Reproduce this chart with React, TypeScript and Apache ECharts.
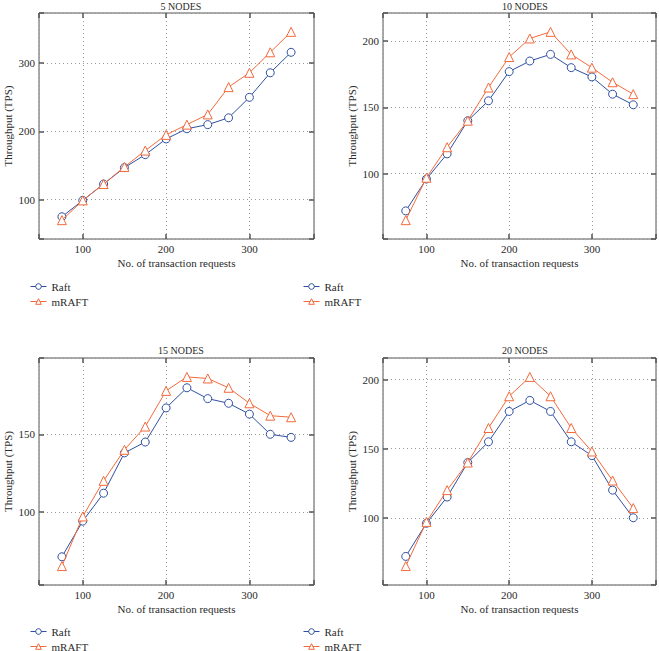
import React, { useEffect, useRef } from "react";
import * as echarts from "echarts";

const requests = [75, 100, 125, 150, 175, 200, 225, 250, 275, 300, 325, 350];

const raft5 = [75, 99, 123, 147, 166, 189, 204, 210, 220, 250, 286, 316];
const mraft5 = [70, 99, 123, 148, 172, 195, 210, 225, 265, 286, 316, 346];

const raft10 = [72, 96, 115, 140, 155, 177, 185, 190, 180, 173, 160, 152];
const mraft10 = [65, 97, 120, 140, 165, 188, 202, 207, 190, 180, 169, 160];

const raft15 = [71, 94, 112, 138, 145, 167, 180, 173, 170, 163, 150, 148];
const mraft15 = [65, 97, 120, 140, 155, 178, 187, 186, 180, 170, 162, 161];

const raft20 = [72, 96, 115, 140, 155, 177, 185, 177, 155, 145, 120, 100];
const mraft20 = [65, 97, 120, 140, 165, 188, 202, 188, 165, 148, 127, 107];

const panelTitles = ["5 NODES", "10 NODES", "15 NODES", "20 NODES"];
const seriesNames = ["Raft", "mRAFT"];
const xAxisName = "No. of transaction requests";
const yAxisName = "Throughput (TPS)";

const panels = [
  [raft5, mraft5],
  [raft10, mraft10],
  [raft15, mraft15],
  [raft20, mraft20],
];

const FONT = '"Liberation Serif", "Times New Roman", serif';
const TEXT = "#2a2a2a";
const FRAME = "#555";
const BLUE = "#2e4fa0";
const ORANGE = "#f26a3c";

export default function App() {
  const ref = useRef<HTMLDivElement>(null);
  useEffect(() => {
    if (!ref.current) return;
    const chart = echarts.init(ref.current, undefined, { renderer: "svg" });

    const gridPos = [
      { left: 39, top: 13, width: 275, height: 226 },
      { left: 383, top: 13, width: 275, height: 226 },
      { left: 39, top: 358, width: 275, height: 227 },
      { left: 383, top: 358, width: 275, height: 227 },
    ];
    const titlePos = [
      { x: 176, y: -4 },
      { x: 520, y: -4 },
      { x: 176, y: 340 },
      { x: 520, y: 340 },
    ];
    const legendPos = [
      { left: 30, top: 281 },
      { left: 303, top: 281 },
      { left: 30, top: 626 },
      { left: 303, top: 626 },
    ];

    const xmin0 = Math.min(...requests);
    const xmax0 = Math.max(...requests);
    const xpad = (xmax0 - xmin0) * 0.1;

    const fmt = (v: number) =>
      Number.isInteger(v) && v % 50 === 0 ? String(v) : "";

    const grid: any[] = [];
    const xAxis: any[] = [];
    const yAxis: any[] = [];
    const series: any[] = [];
    const title: any[] = [];
    const legend: any[] = [];

    panels.forEach((pair, i) => {
      const all = pair[0].concat(pair[1]);
      const ymin0 = Math.min(...all);
      const ymax0 = Math.max(...all);
      const ypad = (ymax0 - ymin0) * 0.1;
      grid.push({
        ...gridPos[i],
        show: true,
        borderColor: FRAME,
        borderWidth: 1,
        backgroundColor: "transparent",
      });
      const tick = {
        show: true,
        inside: true,
        length: 5,
        lineStyle: { color: FRAME, width: 1.5 },
      };
      const xBase = {
        type: "value",
        gridIndex: i,
        min: xmin0 - xpad,
        max: xmax0 + xpad,
        splitNumber: 3,
        axisLine: { show: false },
        axisTick: tick,
      };
      xAxis.push({
        ...xBase,
        position: "bottom",
        name: xAxisName,
        nameLocation: "middle",
        nameGap: 18,
        nameTextStyle: { fontFamily: FONT, fontSize: 11, color: TEXT },
        axisLabel: {
          formatter: fmt,
          fontFamily: FONT,
          fontSize: 11,
          color: TEXT,
          margin: 4,
        },
        splitLine: {
          show: true,
          lineStyle: { color: "#999", type: [1, 3], width: 1 },
        },
      });
      xAxis.push({
        ...xBase,
        position: "top",
        axisLabel: { show: false },
        splitLine: { show: false },
      });
      const yBase = {
        type: "value",
        gridIndex: i,
        min: ymin0 - ypad,
        max: ymax0 + ypad,
        splitNumber: 3,
        axisLine: { show: false },
        axisTick: tick,
      };
      yAxis.push({
        ...yBase,
        position: "left",
        name: yAxisName,
        nameLocation: "middle",
        nameGap: 26,
        nameTextStyle: { fontFamily: FONT, fontSize: 11, color: TEXT },
        axisLabel: {
          formatter: fmt,
          fontFamily: FONT,
          fontSize: 11,
          color: TEXT,
          margin: 4,
        },
        splitLine: {
          show: true,
          lineStyle: { color: "#999", type: [1, 3], width: 1 },
        },
      });
      yAxis.push({
        ...yBase,
        position: "right",
        axisLabel: { show: false },
        splitLine: { show: false },
      });

      [0, 1].forEach((s) => {
        const c = s === 0 ? BLUE : ORANGE;
        series.push({
          type: "line",
          name: seriesNames[s],
          xAxisIndex: i * 2,
          yAxisIndex: i * 2,
          data: requests.map((x, k) => [x, pair[s][k]]),
          symbol: s === 0 ? "circle" : "triangle",
          symbolSize: s === 0 ? 8 : 9,
          lineStyle: { color: c, width: 1 },
          itemStyle: { color: "#fff", borderColor: c, borderWidth: 1 },
          z: 2 + s,
        });
      });

      title.push({
        text: panelTitles[i],
        left: titlePos[i].x,
        top: titlePos[i].y,
        textAlign: "center",
        textStyle: {
          fontFamily: FONT,
          fontSize: 10,
          fontWeight: "normal",
          color: TEXT,
        },
      });

      legend.push({
        orient: "vertical",
        left: legendPos[i].left,
        top: legendPos[i].top,
        padding: 0,
        itemWidth: 16,
        itemHeight: 7,
        itemGap: 4,
        itemStyle: { borderWidth: 1 },
        lineStyle: { width: 1 },
        data: seriesNames,
        textStyle: { fontFamily: FONT, fontSize: 11, color: TEXT },
      });
    });

    chart.setOption({
      animation: false,
      backgroundColor: "#fff",
      title,
      legend,
      grid,
      xAxis,
      yAxis,
      series,
    });
    return () => chart.dispose();
  }, []);
  return (
    <div
      style={{
        position: "absolute",
        left: 0,
        top: 0,
        width: 659,
        height: 651,
        overflow: "hidden",
      }}
    >
      <div ref={ref} style={{ width: 659, height: 680 }} />
    </div>
  );
}
